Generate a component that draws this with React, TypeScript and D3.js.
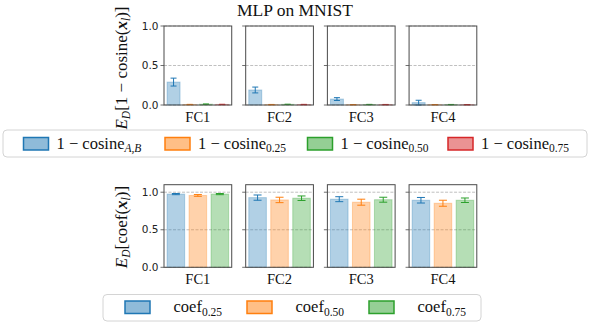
import React from "react";
import * as d3 from "d3";

const layers = ["FC1", "FC2", "FC3", "FC4"];
const colors = ["#1f77b4", "#ff7f0e", "#2ca02c", "#d62728"];

// top row: E_D[1 - cosine]
const cosSubs = ["A,B", "0.25", "0.50", "0.75"];
const cosAB = [0.29, 0.19, 0.075, 0.03];
const cosABErr = [0.05, 0.037, 0.018, 0.03];
const cos025 = [0.006, 0.005, 0.004, 0.004];
const cos025Err = [0.002, 0.002, 0.002, 0.002];
const cos050 = [0.01, 0.008, 0.006, 0.005];
const cos050Err = [0.003, 0.002, 0.002, 0.002];
const cos075 = [0.007, 0.006, 0.005, 0.004];
const cos075Err = [0.002, 0.002, 0.002, 0.002];

// bottom row: E_D[coef]
const coefSubs = ["0.25", "0.50", "0.75"];
const coef025 = [0.975, 0.928, 0.907, 0.893];
const coef025Err = [0.008, 0.035, 0.033, 0.037];
const coef050 = [0.957, 0.897, 0.867, 0.853];
const coef050Err = [0.012, 0.036, 0.04, 0.04];
const coef075 = [0.975, 0.92, 0.9, 0.893];
const coef075Err = [0.008, 0.03, 0.033, 0.03];

const yTicks = [0, 0.5, 1.0];

const topMeans = [cosAB, cos025, cos050, cos075];
const topErrs = [cosABErr, cos025Err, cos050Err, cos075Err];
const botMeans = [coef025, coef050, coef075];
const botErrs = [coef025Err, coef050Err, coef075Err];

const W = 590;
const H = 323;
const serif = "'Liberation Serif', 'Times New Roman', serif";
const sans = "'DejaVu Sans', sans-serif";
const spine = "#4a4a4a";

const panelX = d3.scaleBand<string>().domain(layers).range([164, 476.8]).paddingInner(0.171).paddingOuter(0);

function Row({
  means, errs, yDomain, yRange, cap, labelY,
}: {
  means: number[][]; errs: number[][]; yDomain: [number, number]; yRange: [number, number]; cap: number; labelY: number;
}) {
  const n = means.length;
  const y = d3.scaleLinear().domain(yDomain).range(yRange);
  const pad = 0.4 + 0.05 * (n - 1 + 0.8);
  const bw = panelX.bandwidth();
  const x = d3.scaleLinear().domain([-pad, n - 1 + pad]).range([0, bw]);
  const barW = x(0.8) - x(0);
  return (
    <g>
      {layers.map((L, li) => {
        const px = panelX(L)!;
        return (
          <g key={L} transform={`translate(${px},0)`}>
            {yTicks.map((t) => (
              <line key={t} x1={0} x2={bw} y1={y(t)} y2={y(t)} stroke="#b0b0b0" strokeWidth={0.8} strokeDasharray="3,1.5" />
            ))}
            {means.map((m, si) => {
              const v = m[li];
              const e = errs[si][li];
              const cx = x(si);
              const yb = y(Math.max(v, 0));
              return (
                <g key={si}>
                  <rect x={cx - barW / 2} y={yb} width={barW} height={y(0) - yb}
                    fill={colors[si]} fillOpacity={0.35} stroke={colors[si]} strokeOpacity={0.3} strokeWidth={1} />
                  <line x1={cx} x2={cx} y1={y(Math.max(v - e, yDomain[0]))} y2={y(v + e)} stroke={colors[si]} strokeWidth={1} />
                  <line x1={cx - cap} x2={cx + cap} y1={y(v + e)} y2={y(v + e)} stroke={colors[si]} strokeWidth={1} />
                  {v - e >= yDomain[0] && (
                    <line x1={cx - cap} x2={cx + cap} y1={y(v - e)} y2={y(v - e)} stroke={colors[si]} strokeWidth={1} />
                  )}
                </g>
              );
            })}
            <rect x={0} y={yRange[1]} width={bw} height={yRange[0] - yRange[1]} fill="none" stroke={spine} strokeWidth={1} />
            {yTicks.map((t) => (
              <line key={"t" + t} x1={-3.5} x2={0} y1={y(t)} y2={y(t)} stroke={spine} strokeWidth={0.8} />
            ))}
            {li === 0 && yTicks.map((t) => (
              <text key={"l" + t} x={-5.5} y={y(t)} dy="0.35em" textAnchor="end" fontFamily={sans} fontSize={10.5} fill="#222">
                {t.toFixed(1)}
              </text>
            ))}
            <text x={bw / 2} y={labelY} textAnchor="middle" fontFamily={serif} fontSize={14.5} fill="#111">{L}</text>
          </g>
        );
      })}
    </g>
  );
}

export default function App() {
  return (
    <svg width={W} height={H} style={{ position: "absolute", left: 0, top: 0, background: "#fff" }}>
      <text x={295} y={16} textAnchor="middle" fontFamily={serif} fontSize={17.5} fill="#111">MLP on MNIST</text>

      <Row means={topMeans} errs={topErrs} yDomain={[0, 1]} yRange={[105, 26]} cap={3} labelY={121.5} />
      <Row means={botMeans} errs={botErrs} yDomain={[0, 1.1]} yRange={[267.3, 184.7]} cap={4} labelY={283.5} />

      {/* y labels */}
      <text transform="translate(126.5,68) rotate(-90)" textAnchor="middle" fontFamily={serif} fontSize={17} fill="#111">
        <tspan fontStyle="italic">E</tspan><tspan fontStyle="italic" fontSize={11.5} dy={3.5}>D</tspan>
        <tspan dy={-3.5}>[1 − cosine(</tspan><tspan fontStyle="italic" fontWeight="bold">x</tspan>
        <tspan fontStyle="italic" fontSize={11.5} dy={3.5}>l</tspan><tspan dy={-3.5}>)]</tspan>
      </text>
      <text transform="translate(126.5,227) rotate(-90)" textAnchor="middle" fontFamily={serif} fontSize={17} fill="#111">
        <tspan fontStyle="italic">E</tspan><tspan fontStyle="italic" fontSize={11.5} dy={3.5}>D</tspan>
        <tspan dy={-3.5}>[coef(</tspan><tspan fontStyle="italic" fontWeight="bold">x</tspan>
        <tspan fontStyle="italic" fontSize={11.5} dy={3.5}>l</tspan><tspan dy={-3.5}>)]</tspan>
      </text>

      {/* legend 1 */}
      <rect x={3} y={130} width={584} height={27} rx={4} fill="#fff" stroke="#d4d4d4" strokeWidth={1} />
      {cosSubs.map((s, i) => {
        const px = [23.5, 165, 307.5, 448][i];
        return (
          <g key={s}>
            <rect x={px} y={137.5} width={25} height={12.5} fill={colors[i]} fillOpacity={0.5} stroke={colors[i]} strokeWidth={1.5} />
            <text x={px + 33} y={148.5} fontFamily={serif} fontSize={16.5} fill="#111">
              1 − cosine<tspan fontSize={11.5} dy={3.5} fontStyle={i === 0 ? "italic" : "normal"}>{s}</tspan>
            </text>
          </g>
        );
      })}

      {/* legend 2 */}
      <rect x={103} y={294.5} width={378} height={26.5} rx={4} fill="#fff" stroke="#d4d4d4" strokeWidth={1} />
      {coefSubs.map((s, i) => {
        const px = [125, 247, 369][i];
        return (
          <g key={s}>
            <rect x={px} y={301} width={25} height={12.5} fill={colors[i]} fillOpacity={0.5} stroke={colors[i]} strokeWidth={1.5} />
            <text x={px + 48.5} y={312} fontFamily={serif} fontSize={16.5} fill="#111">
              coef<tspan fontSize={11.5} dy={3.5}>{s}</tspan>
            </text>
          </g>
        );
      })}
    </svg>
  );
}
